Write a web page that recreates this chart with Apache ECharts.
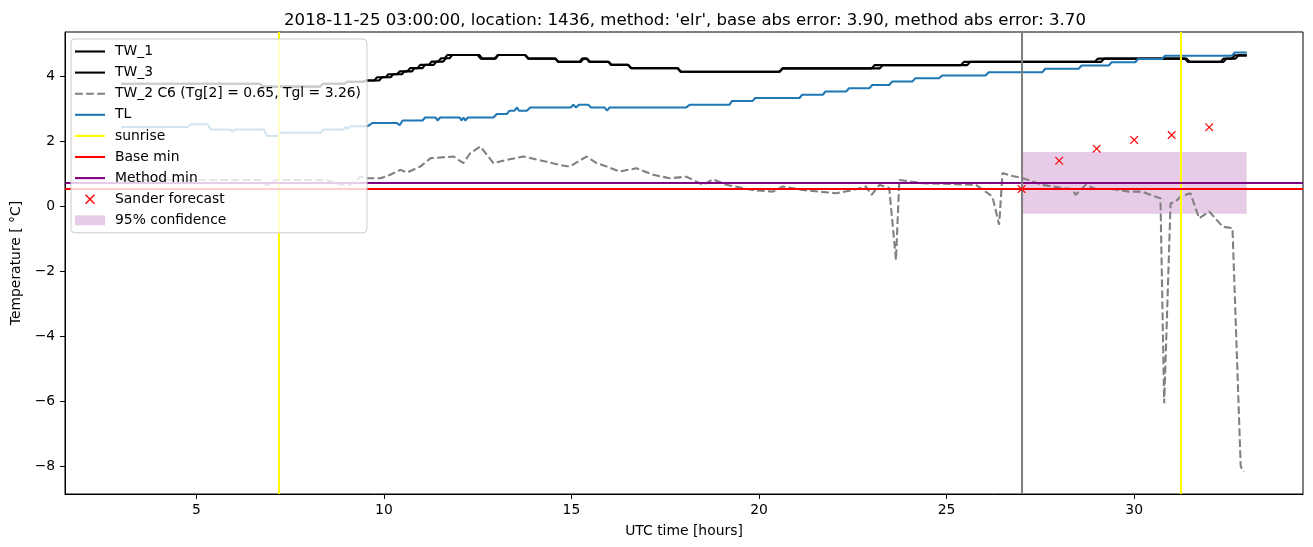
<!DOCTYPE html>
<html><head><meta charset="utf-8">
<script src="https://cdn.jsdelivr.net/npm/echarts@6/dist/echarts.min.js"></script>
<style>html,body{margin:0;padding:0;background:#fff}#c{width:1313px;height:547px}</style>
</head><body><div id="c"></div>
<script>
const titleText = "2018-11-25 03:00:00, location: 1436, method: 'elr', base abs error: 3.90, method abs error: 3.70";
const xTicks = [5, 10, 15, 20, 25, 30];
const yTicks = [-8, -6, -4, -2, 0, 2, 4];

const tw1 = [[3.0,3.78],[6.70,3.78],[6.78,3.69],[8.30,3.69],[8.38,3.78],[8.95,3.78],[9.03,3.84],[9.45,3.84],[9.53,3.88],[9.75,3.88],[9.82,3.98],[10.05,3.98],[10.12,4.07],[10.35,4.07],[10.42,4.16],[10.62,4.16],[10.70,4.26],[10.90,4.26],[10.97,4.36],[11.20,4.36],[11.27,4.46],[11.45,4.46],[11.52,4.56],[11.62,4.56],[11.69,4.66],[12.50,4.66],[12.58,4.55],[12.95,4.55],[13.03,4.66],[13.76,4.66],[13.84,4.55],[14.56,4.55],[14.64,4.45],[15.22,4.45],[15.28,4.55],[15.40,4.55],[15.47,4.45],[15.98,4.45],[16.05,4.36],[16.50,4.36],[16.58,4.26],[17.82,4.26],[17.90,4.15],[20.54,4.15],[20.62,4.25],[23.00,4.25],[23.08,4.35],[25.38,4.35],[25.46,4.45],[28.95,4.45],[29.03,4.55],[31.35,4.55],[31.43,4.45],[32.30,4.45],[32.38,4.55],[32.60,4.55],[32.68,4.65],[33.0,4.65]];

const tw3 = [[3.0,3.78],[6.70,3.78],[6.78,3.69],[8.30,3.69],[8.38,3.78],[8.95,3.78],[9.03,3.84],[9.45,3.84],[9.53,3.88],[9.88,3.88],[9.95,3.98],[10.18,3.98],[10.25,4.07],[10.48,4.07],[10.55,4.16],[10.75,4.16],[10.82,4.26],[11.03,4.26],[11.10,4.36],[11.33,4.36],[11.40,4.46],[11.58,4.46],[11.65,4.56],[11.75,4.56],[11.82,4.66],[12.55,4.66],[12.62,4.55],[12.98,4.55],[13.05,4.66],[13.78,4.66],[13.86,4.55],[14.58,4.55],[14.66,4.45],[15.25,4.45],[15.32,4.55],[15.42,4.55],[15.50,4.45],[16.00,4.45],[16.07,4.36],[16.52,4.36],[16.60,4.26],[17.84,4.26],[17.92,4.15],[20.56,4.15],[20.64,4.25],[23.22,4.25],[23.30,4.35],[25.55,4.35],[25.63,4.45],[29.12,4.45],[29.20,4.55],[31.40,4.55],[31.48,4.45],[32.38,4.45],[32.46,4.55],[32.70,4.55],[32.78,4.65],[33.0,4.65]];

const tw2 = [[3.0,0.82],[6.72,0.82],[6.85,0.67],[6.98,0.67],[7.12,0.82],[7.78,0.82],[8.14,0.82],[8.5,0.80],[8.85,0.67],[9.11,0.67],[9.38,0.92],[9.55,0.87],[9.91,0.87],[10.17,0.98],[10.44,1.13],[10.62,1.05],[10.97,1.23],[11.25,1.49],[11.86,1.54],[12.12,1.34],[12.30,1.64],[12.57,1.85],[12.92,1.34],[13.28,1.44],[13.72,1.54],[14.34,1.38],[14.69,1.28],[14.96,1.23],[15.40,1.54],[15.67,1.34],[15.94,1.23],[16.29,1.08],[16.73,1.18],[17.18,0.98],[17.62,0.87],[18.06,0.92],[18.51,0.67],[18.77,0.84],[19.13,0.67],[19.83,0.51],[20.37,0.46],[20.63,0.62],[21.16,0.51],[21.6,0.46],[22.05,0.41],[22.5,0.51],[22.85,0.62],[23.0,0.36],[23.21,0.67],[23.47,0.57],[23.65,-1.64],[23.74,0.82],[24.36,0.72],[25.78,0.67],[26.22,0.31],[26.40,-0.56],[26.49,1.03],[26.76,0.94],[27.04,0.87],[27.55,0.67],[28.09,0.57],[28.35,0.54],[28.44,0.36],[28.71,0.67],[28.97,0.54],[29.4,0.54],[29.86,0.46],[30.21,0.46],[30.56,0.31],[30.70,0.26],[30.80,-6.05],[30.97,0.10],[31.10,0.15],[31.24,0.31],[31.50,0.41],[31.73,-0.36],[32.00,-0.15],[32.36,-0.62],[32.62,-0.66],[32.84,-8.0],[32.93,-8.15]];

const tl = [[3.0,2.45],[4.77,2.45],[4.85,2.53],[5.30,2.53],[5.39,2.37],[5.90,2.37],[5.96,2.30],[6.03,2.37],[6.80,2.37],[6.89,2.17],[7.16,2.17],[7.25,2.27],[8.31,2.27],[8.38,2.37],[8.93,2.37],[8.98,2.45],[9.04,2.40],[9.12,2.47],[9.55,2.47],[9.62,2.51],[9.69,2.57],[10.35,2.57],[10.42,2.50],[10.50,2.65],[11.03,2.65],[11.10,2.74],[11.38,2.74],[11.43,2.65],[11.50,2.74],[12.02,2.74],[12.07,2.65],[12.12,2.74],[12.17,2.65],[12.24,2.74],[12.92,2.74],[13.01,2.85],[13.28,2.85],[13.35,2.95],[13.48,2.95],[13.55,3.05],[13.60,2.95],[13.81,2.95],[13.90,3.05],[14.98,3.05],[15.05,3.13],[15.12,3.05],[15.20,3.13],[15.45,3.13],[15.52,3.05],[15.88,3.05],[15.95,2.95],[16.02,3.05],[18.06,3.05],[18.15,3.13],[19.21,3.13],[19.28,3.25],[19.83,3.25],[19.90,3.34],[21.08,3.34],[21.15,3.44],[21.70,3.44],[21.77,3.54],[22.32,3.54],[22.40,3.64],[22.94,3.64],[23.02,3.74],[23.47,3.74],[23.55,3.85],[24.09,3.85],[24.17,3.95],[24.80,3.95],[24.88,4.03],[26.04,4.03],[26.12,4.13],[27.55,4.13],[27.63,4.24],[28.52,4.24],[28.60,4.34],[29.32,4.34],[29.40,4.44],[30.03,4.44],[30.10,4.54],[30.74,4.54],[30.82,4.64],[32.60,4.64],[32.68,4.74],[33.0,4.74]];

const sunriseHours = [7.21, 31.23];
const forecastStart = 27.0;
const baseMin = 0.54;
const methodMin = 0.73;
const sanderHours = [27, 28, 29, 30, 31, 32];
const sanderValues = [0.54, 1.41, 1.78, 2.05, 2.20, 2.44];
const confHours = [27, 33];
const confLow = -0.22;
const confHigh = 1.68;

const names = {
  tw1: 'TW_1', tw3: 'TW_3', tw2: 'TW_2 C6 (Tg[2] = 0.65, Tgl = 3.26)', tl: 'TL',
  sun: 'sunrise', base: 'Base min', method: 'Method min', sander: 'Sander forecast', conf: '95% confidence'
};

const FONT = 'DejaVu Sans';
const FS = 13.9;
const lineIcon = 'path://M0,0H30V2.1H0Z';
const dashIcon = 'path://M0,0H7.7V2.1H0Z M11,0H18.7V2.1H11Z M22,0H29.7V2.1H22Z M0,0';
const xIcon = 'path://M0,1L1,0L5,4L9,0L10,1L6,5L10,9L9,10L5,6L1,10L0,9L4,5Z';

const chart = echarts.init(document.getElementById('c'), null, {renderer: 'canvas'});
chart.setOption({
  animation: false,
  backgroundColor: '#fff',
  textStyle: {fontFamily: FONT, color: '#000'},
  title: {
    text: titleText, left: 680, top: 7, textAlign: 'center',
    textStyle: {fontFamily: FONT, fontSize: 16.6, fontWeight: 'normal', color: '#000'}
  },
  grid: {left: 65, right: 10, top: 32, bottom: 53, show: true, borderColor: '#000', borderWidth: 1, backgroundColor: 'transparent'},
  xAxis: {
    type: 'value', min: 1.5, max: 34.5,
    name: 'UTC time [hours]', nameLocation: 'middle', nameGap: 30,
    nameTextStyle: {fontFamily: FONT, fontSize: FS, color: '#000'},
    axisLine: {show: true, onZero: false, lineStyle: {color: '#000', width: 1}},
    axisTick: {show: true, length: 4.9, lineStyle: {color: '#000', width: 1}, customValues: xTicks},
    axisLabel: {show: true, margin: 9.8, fontFamily: FONT, fontSize: FS, color: '#000', customValues: xTicks},
    splitLine: {show: false}
  },
  yAxis: {
    type: 'value', min: -8.84, max: 5.37,
    name: 'Temperature [ °C]', nameLocation: 'middle', nameGap: 38, nameRotate: 90,
    nameTextStyle: {fontFamily: FONT, fontSize: FS, color: '#000'},
    axisLine: {show: true, onZero: false, lineStyle: {color: '#000', width: 1}},
    axisTick: {show: true, length: 4.9, lineStyle: {color: '#000', width: 1}, customValues: yTicks},
    axisLabel: {show: true, margin: 9.8, fontFamily: FONT, fontSize: FS, color: '#000', customValues: yTicks,
      formatter: v => String(v).replace('-', '\u2212')},
    splitLine: {show: false}
  },
  legend: {
    orient: 'vertical', left: 71, top: 39, z: 20,
    padding: [5.5, 6, 5.5, 4], itemGap: 7.1, itemWidth: 30, itemHeight: 10,
    backgroundColor: 'rgba(255,255,255,0.8)', borderColor: '#cccccc', borderWidth: 1, borderRadius: 4,
    selectedMode: false,
    textStyle: {fontFamily: FONT, fontSize: FS, color: '#000', padding: [0, 0, 0, 5]},
    data: [
      {name: names.tw1, icon: lineIcon},
      {name: names.tw3, icon: lineIcon},
      {name: names.tw2, icon: dashIcon},
      {name: names.tl, icon: lineIcon},
      {name: names.sun, icon: lineIcon},
      {name: names.base, icon: lineIcon},
      {name: names.method, icon: lineIcon},
      {name: names.sander, icon: xIcon},
      {name: names.conf, icon: 'rect'}
    ]
  },
  series: [
    {name: names.conf, type: 'line', data: [], z: 1, symbol: 'none',
      itemStyle: {color: 'rgba(128,0,128,0.2)'}, lineStyle: {color: 'rgba(128,0,128,0.2)'},
      markArea: {silent: true, itemStyle: {color: 'rgba(128,0,128,0.2)'},
        data: [[{xAxis: confHours[0], yAxis: confHigh}, {xAxis: confHours[1], yAxis: confLow}]]}},
    {name: names.tw1, type: 'line', data: tw1, z: 3, symbol: 'none', itemStyle: {color: '#000'}, lineStyle: {color: '#000', width: 2.08}},
    {name: names.tw3, type: 'line', data: tw3, z: 3, symbol: 'none', itemStyle: {color: '#000'}, lineStyle: {color: '#000', width: 2.08}},
    {name: names.tw2, type: 'line', data: tw2, z: 3, symbol: 'none', itemStyle: {color: '#808080'}, lineStyle: {color: '#808080', width: 2.08, type: [7.7, 3.3]}},
    {name: names.tl, type: 'line', data: tl, z: 3, symbol: 'none', itemStyle: {color: '#1f77b4'}, lineStyle: {color: '#1f77b4', width: 2.08}},
    {name: names.sun, type: 'line', data: [], z: 4, symbol: 'none', itemStyle: {color: '#ffff00'}, lineStyle: {color: '#ffff00'},
      markLine: {silent: true, symbol: 'none', label: {show: false}, lineStyle: {color: '#ffff00', width: 2, type: 'solid'},
        data: sunriseHours.map(h => ({xAxis: h}))}},
    {name: names.base, type: 'line', data: [], z: 4, symbol: 'none', itemStyle: {color: '#ff0000'}, lineStyle: {color: '#ff0000'},
      markLine: {silent: true, symbol: 'none', label: {show: false}, lineStyle: {color: '#ff0000', width: 2.08, type: 'solid'},
        data: [{yAxis: baseMin}]}},
    {name: names.method, type: 'line', data: [], z: 4, symbol: 'none', itemStyle: {color: '#800080'}, lineStyle: {color: '#800080'},
      markLine: {silent: true, symbol: 'none', label: {show: false}, lineStyle: {color: '#800080', width: 2.08, type: 'solid'},
        data: [{yAxis: methodMin}]}},
    {name: 'forecast start', type: 'line', data: [], z: 4, symbol: 'none',
      markLine: {silent: true, symbol: 'none', label: {show: false}, lineStyle: {color: '#808080', width: 2.08, type: 'solid'},
        data: [{xAxis: forecastStart}]}},
    {name: names.sander, type: 'scatter', z: 5, symbol: xIcon, symbolSize: 8.5,
      itemStyle: {color: '#ff0000', opacity: 1},
      data: sanderHours.map((h, i) => [h, sanderValues[i]])}
  ]
});
</script>
</body></html>
